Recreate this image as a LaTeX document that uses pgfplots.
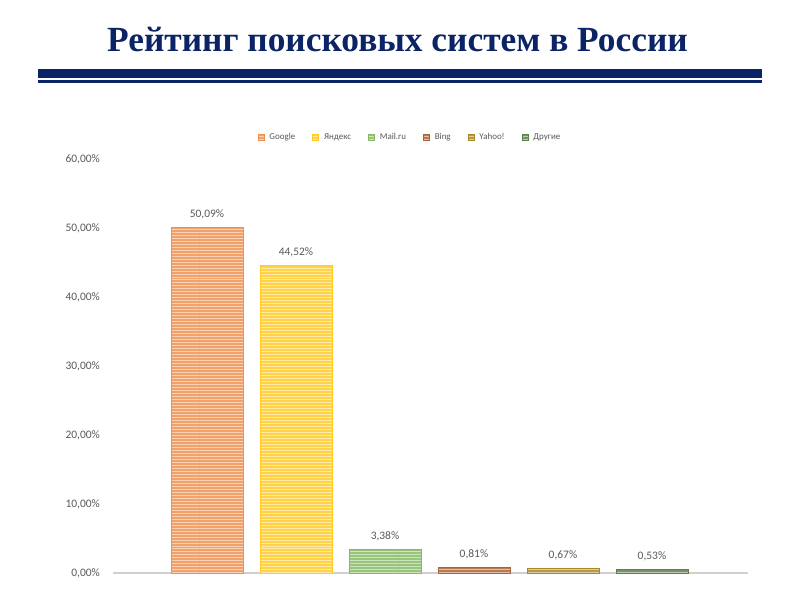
\documentclass[border=0pt]{standalone}
\usepackage{fontspec}
\setmainfont{Carlito}
\newfontfamily\titlefont{Liberation Serif}
\usepackage{pgfplots}
\pgfplotsset{compat=1.18}
\usetikzlibrary{patterns}
\definecolor{navy}{HTML}{0B2466}
\definecolor{cgoogle}{HTML}{ED7D31}
\definecolor{cyandex}{HTML}{FFC000}
\definecolor{cmail}{HTML}{70AD47}
\definecolor{cbing}{HTML}{9E480E}
\definecolor{cyahoo}{HTML}{997300}
\definecolor{cother}{HTML}{43682B}
\definecolor{lbl}{HTML}{595959}
\definecolor{base}{HTML}{D0D0D0}
\tikzset{
  barstyle/.style={fill=#1!72!white, draw=#1!85!white, line width=0.8bp,
    postaction={pattern=horizontal lines, pattern color=#1!35!white}}
}
\begin{document}
\begin{tikzpicture}[x=1bp,y=1bp]
\fill[white] (0,0) rectangle (800,600);
\useasboundingbox (0,0) rectangle (800,600);
\node[anchor=base, text=navy, inner sep=0] at (397.5,548) {\titlefont\fontsize{35.5}{38}\selectfont\bfseries Рейтинг поисковых систем в России};
\fill[navy] (38,522) rectangle (762,530.5);
\fill[navy] (38,517) rectangle (762,519.5);
\begin{axis}[
  at={(113bp,27bp)}, anchor=south west,
  scale only axis, width=635bp, height=414bp,
  xmin=-1.056, xmax=6.079, ymin=0, ymax=60,
  ytick={0,10,...,60}, xtick=\empty,
  axis x line*=bottom, axis y line*=left,
  x axis line style={draw=base, line width=1.2bp},
  y axis line style={draw=none},
  major tick length=0pt,
  /pgf/number format/assume math mode=true,
  yticklabel={\pgfmathprintnumber[fixed,fixed zerofill,precision=2,use comma]{\tick}\%},
  yticklabel style={font=\fontsize{11.5}{13}\selectfont, text=lbl, anchor=east, inner sep=0pt, xshift=-13bp},
  ybar, bar width=72bp, bar shift=0pt,
  nodes near coords={\pgfmathprintnumber[fixed,fixed zerofill,precision=2,use comma]{\pgfplotspointmeta}\%},
  nodes near coords style={font=\fontsize{11.5}{13}\selectfont, text=lbl, anchor=south, inner sep=0pt, yshift=8bp},
  legend columns=6,
  legend style={draw=none, fill=none, at={(0.4677,1.053)}, anchor=center,
    font=\fontsize{9}{10}\selectfont, text=lbl, inner sep=0pt,
    nodes={text height=1.6ex, text depth=0.4ex},
    /tikz/every even column/.append style={column sep=15bp}},
  legend image code/.code={\fill[#1,draw=none] (0bp,-3bp) rectangle (6bp,3bp); \path (0bp,0bp) (9bp,0bp);},
  clip=false,
]
\addplot[barstyle=cgoogle] coordinates {(0,50.09)};
\addplot[barstyle=cyandex] coordinates {(1,44.52)};
\addplot[barstyle=cmail] coordinates {(2,3.38)};
\addplot[barstyle=cbing] coordinates {(3,0.81)};
\addplot[barstyle=cyahoo] coordinates {(4,0.67)};
\addplot[barstyle=cother] coordinates {(5,0.53)};
\legend{Google, Яндекс, Mail.ru, Bing, Yahoo!, Другие}
\end{axis}
\end{tikzpicture}
\end{document}
